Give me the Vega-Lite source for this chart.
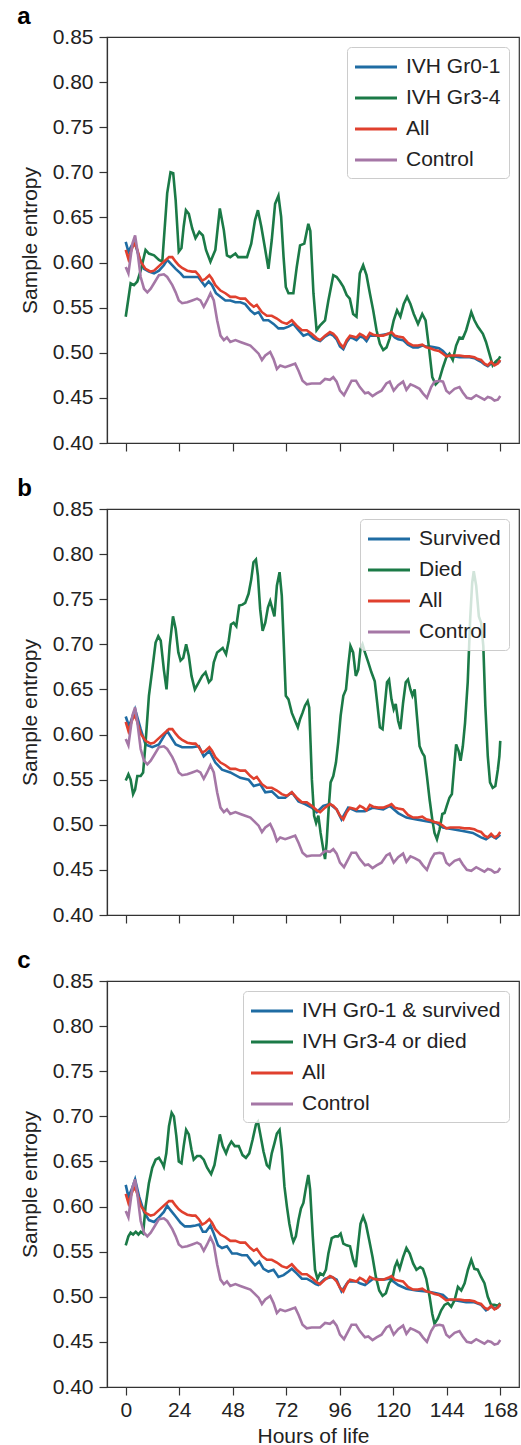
{
"$schema": "https://vega.github.io/schema/vega-lite/v6.json",
"padding": {"left": 16, "top": 4, "right": 3, "bottom": 2},
"datasets": {
"control": [{"h":0,"v":0.595},{"h":1.2,"v":0.588},{"h":3,"v":0.621},{"h":4.2,"v":0.63},{"h":5.2,"v":0.614},{"h":6.7,"v":0.584},{"h":8.2,"v":0.571},{"h":9.7,"v":0.567},{"h":11.2,"v":0.571},{"h":12.7,"v":0.577},{"h":14.9,"v":0.586},{"h":17.1,"v":0.587},{"h":18.6,"v":0.584},{"h":20.9,"v":0.575},{"h":22.4,"v":0.567},{"h":23.8,"v":0.558},{"h":25.3,"v":0.555},{"h":27.6,"v":0.556},{"h":29.8,"v":0.558},{"h":32,"v":0.56},{"h":33.5,"v":0.558},{"h":35,"v":0.551},{"h":36.5,"v":0.558},{"h":38,"v":0.566},{"h":39.5,"v":0.558},{"h":41,"v":0.536},{"h":42.5,"v":0.519},{"h":44,"v":0.514},{"h":45.4,"v":0.517},{"h":46.9,"v":0.512},{"h":49.2,"v":0.514},{"h":51.4,"v":0.512},{"h":53.6,"v":0.51},{"h":55.9,"v":0.508},{"h":58,"v":0.503},{"h":59.6,"v":0.499},{"h":61.1,"v":0.492},{"h":62.6,"v":0.497},{"h":64.8,"v":0.501},{"h":66.3,"v":0.493},{"h":67.8,"v":0.482},{"h":69.3,"v":0.486},{"h":71.5,"v":0.484},{"h":73.7,"v":0.486},{"h":76,"v":0.488},{"h":77.5,"v":0.48},{"h":79.3,"v":0.469},{"h":81.2,"v":0.465},{"h":83.4,"v":0.466},{"h":85.2,"v":0.466},{"h":87.2,"v":0.466},{"h":89.4,"v":0.471},{"h":91.6,"v":0.47},{"h":93.1,"v":0.473},{"h":94.6,"v":0.468},{"h":96.1,"v":0.458},{"h":97.9,"v":0.453},{"h":99.4,"v":0.46},{"h":101.3,"v":0.469},{"h":103.3,"v":0.469},{"h":105,"v":0.462},{"h":107.3,"v":0.455},{"h":108.8,"v":0.456},{"h":110.7,"v":0.452},{"h":112.5,"v":0.455},{"h":114.7,"v":0.458},{"h":116.9,"v":0.466},{"h":118.4,"v":0.468},{"h":120.2,"v":0.458},{"h":122.2,"v":0.464},{"h":124.4,"v":0.468},{"h":125.9,"v":0.459},{"h":127.7,"v":0.465},{"h":129.6,"v":0.463},{"h":131.8,"v":0.46},{"h":133.3,"v":0.455},{"h":135.1,"v":0.45},{"h":137,"v":0.462},{"h":138.5,"v":0.468},{"h":140.8,"v":0.469},{"h":142.3,"v":0.468},{"h":143.8,"v":0.458},{"h":145.2,"v":0.455},{"h":147.5,"v":0.46},{"h":149.7,"v":0.462},{"h":151.2,"v":0.456},{"h":153,"v":0.45},{"h":155,"v":0.449},{"h":157.2,"v":0.453},{"h":159.4,"v":0.45},{"h":160.9,"v":0.448},{"h":162.4,"v":0.451},{"h":163.9,"v":0.45},{"h":165.4,"v":0.447},{"h":166.9,"v":0.448},{"h":168,"v":0.452}],
"all": [{"h":0,"v":0.614},{"h":1.2,"v":0.604},{"h":3,"v":0.617},{"h":4.2,"v":0.621},{"h":5.2,"v":0.614},{"h":6.7,"v":0.601},{"h":8.9,"v":0.593},{"h":11.2,"v":0.59},{"h":12.7,"v":0.591},{"h":14.9,"v":0.596},{"h":17.1,"v":0.601},{"h":19.4,"v":0.606},{"h":20.9,"v":0.606},{"h":22.4,"v":0.601},{"h":23.8,"v":0.597},{"h":25.3,"v":0.594},{"h":27.6,"v":0.591},{"h":29.8,"v":0.59},{"h":31.3,"v":0.59},{"h":32.8,"v":0.586},{"h":34.3,"v":0.58},{"h":35.8,"v":0.582},{"h":37.5,"v":0.586},{"h":38.7,"v":0.582},{"h":40.2,"v":0.575},{"h":42.5,"v":0.569},{"h":44.7,"v":0.566},{"h":46.9,"v":0.562},{"h":49.2,"v":0.562},{"h":51.4,"v":0.56},{"h":53.6,"v":0.56},{"h":55.9,"v":0.554},{"h":57.4,"v":0.551},{"h":58.8,"v":0.553},{"h":61.1,"v":0.545},{"h":63.3,"v":0.541},{"h":65.5,"v":0.541},{"h":67.8,"v":0.538},{"h":70,"v":0.534},{"h":72.3,"v":0.532},{"h":74.5,"v":0.536},{"h":76.7,"v":0.53},{"h":79,"v":0.525},{"h":81.2,"v":0.525},{"h":83.4,"v":0.521},{"h":85.7,"v":0.516},{"h":87.2,"v":0.514},{"h":89.4,"v":0.519},{"h":91.6,"v":0.523},{"h":93.1,"v":0.521},{"h":94.6,"v":0.517},{"h":96.1,"v":0.51},{"h":97.6,"v":0.506},{"h":99.1,"v":0.514},{"h":100.6,"v":0.519},{"h":102,"v":0.518},{"h":103.5,"v":0.517},{"h":105,"v":0.521},{"h":106.5,"v":0.519},{"h":108,"v":0.516},{"h":109.5,"v":0.522},{"h":111,"v":0.52},{"h":113.2,"v":0.519},{"h":115.5,"v":0.519},{"h":117.7,"v":0.521},{"h":119.2,"v":0.523},{"h":120.7,"v":0.519},{"h":122.2,"v":0.518},{"h":124.4,"v":0.517},{"h":126.6,"v":0.511},{"h":128.9,"v":0.508},{"h":131.1,"v":0.508},{"h":133,"v":0.509},{"h":134.8,"v":0.506},{"h":136.6,"v":0.505},{"h":138.5,"v":0.503},{"h":140.5,"v":0.502},{"h":142.3,"v":0.499},{"h":143.8,"v":0.496},{"h":145.6,"v":0.497},{"h":147.5,"v":0.497},{"h":149.7,"v":0.497},{"h":151.9,"v":0.496},{"h":154.2,"v":0.496},{"h":156.4,"v":0.495},{"h":157.9,"v":0.493},{"h":159.4,"v":0.492},{"h":160.9,"v":0.488},{"h":162.4,"v":0.486},{"h":163.9,"v":0.49},{"h":165.4,"v":0.486},{"h":166.9,"v":0.488},{"h":168,"v":0.492}],
"a_blue": [{"h":0,"v":0.623},{"h":1.2,"v":0.612},{"h":2.7,"v":0.619},{"h":4.2,"v":0.621},{"h":6,"v":0.606},{"h":8.2,"v":0.593},{"h":10.4,"v":0.59},{"h":12.7,"v":0.588},{"h":14.9,"v":0.591},{"h":17.1,"v":0.597},{"h":18.6,"v":0.603},{"h":20.1,"v":0.599},{"h":22.4,"v":0.593},{"h":24.6,"v":0.588},{"h":26,"v":0.584},{"h":28.3,"v":0.584},{"h":30.5,"v":0.584},{"h":32.5,"v":0.584},{"h":34,"v":0.579},{"h":35.5,"v":0.574},{"h":37.2,"v":0.579},{"h":38.7,"v":0.575},{"h":40.5,"v":0.566},{"h":42.5,"v":0.562},{"h":44.7,"v":0.558},{"h":46.9,"v":0.558},{"h":49.2,"v":0.556},{"h":51.4,"v":0.556},{"h":53.6,"v":0.554},{"h":55.9,"v":0.547},{"h":57.8,"v":0.543},{"h":59.6,"v":0.545},{"h":61.8,"v":0.536},{"h":64,"v":0.536},{"h":66.3,"v":0.532},{"h":68.5,"v":0.527},{"h":70.8,"v":0.527},{"h":73,"v":0.529},{"h":75.2,"v":0.532},{"h":77.5,"v":0.525},{"h":79.7,"v":0.519},{"h":81.9,"v":0.521},{"h":84.2,"v":0.516},{"h":85.7,"v":0.514},{"h":87.2,"v":0.513},{"h":89.4,"v":0.518},{"h":91.6,"v":0.521},{"h":93.1,"v":0.519},{"h":94.6,"v":0.515},{"h":96.1,"v":0.507},{"h":97.6,"v":0.504},{"h":99.1,"v":0.512},{"h":100.6,"v":0.517},{"h":102,"v":0.516},{"h":103.5,"v":0.514},{"h":105,"v":0.518},{"h":106.5,"v":0.517},{"h":108,"v":0.513},{"h":109.5,"v":0.519},{"h":111,"v":0.519},{"h":113.2,"v":0.519},{"h":115.5,"v":0.52},{"h":117.7,"v":0.521},{"h":119.2,"v":0.521},{"h":120.7,"v":0.517},{"h":122.2,"v":0.515},{"h":124.4,"v":0.514},{"h":126.6,"v":0.509},{"h":128.9,"v":0.506},{"h":131.1,"v":0.506},{"h":133,"v":0.508},{"h":134.8,"v":0.507},{"h":136.6,"v":0.507},{"h":138.5,"v":0.506},{"h":140.5,"v":0.505},{"h":142.3,"v":0.502},{"h":143.8,"v":0.498},{"h":145.6,"v":0.496},{"h":147.5,"v":0.496},{"h":149.7,"v":0.495},{"h":151.9,"v":0.495},{"h":154.2,"v":0.495},{"h":156.4,"v":0.494},{"h":157.9,"v":0.492},{"h":159.4,"v":0.49},{"h":160.9,"v":0.487},{"h":162.4,"v":0.485},{"h":163.9,"v":0.488},{"h":165.4,"v":0.488},{"h":166.9,"v":0.489},{"h":168,"v":0.491}],
"a_green": [{"h":0,"v":0.54},{"h":2.2,"v":0.577},{"h":3.7,"v":0.575},{"h":5.2,"v":0.579},{"h":6.7,"v":0.591},{"h":8.9,"v":0.614},{"h":10.4,"v":0.61},{"h":12.7,"v":0.608},{"h":14.9,"v":0.603},{"h":16.4,"v":0.601},{"h":18.6,"v":0.677},{"h":20.1,"v":0.7},{"h":21.3,"v":0.699},{"h":22.4,"v":0.669},{"h":23.8,"v":0.612},{"h":25,"v":0.616},{"h":26,"v":0.64},{"h":27,"v":0.658},{"h":28.3,"v":0.654},{"h":29.8,"v":0.638},{"h":31.3,"v":0.627},{"h":33,"v":0.634},{"h":34.6,"v":0.63},{"h":36,"v":0.614},{"h":38,"v":0.601},{"h":40.2,"v":0.614},{"h":42.2,"v":0.66},{"h":44,"v":0.636},{"h":45.4,"v":0.608},{"h":46.9,"v":0.606},{"h":49.2,"v":0.61},{"h":50.4,"v":0.606},{"h":52,"v":0.606},{"h":54.4,"v":0.606},{"h":56.3,"v":0.621},{"h":58,"v":0.647},{"h":59.3,"v":0.658},{"h":60.8,"v":0.64},{"h":62.6,"v":0.614},{"h":64,"v":0.593},{"h":65.5,"v":0.625},{"h":67,"v":0.665},{"h":68.5,"v":0.674},{"h":69.7,"v":0.651},{"h":70.8,"v":0.606},{"h":71.8,"v":0.573},{"h":73,"v":0.566},{"h":75.2,"v":0.566},{"h":76.7,"v":0.595},{"h":78.2,"v":0.619},{"h":80.1,"v":0.621},{"h":81.9,"v":0.643},{"h":82.8,"v":0.635},{"h":84.2,"v":0.566},{"h":85.6,"v":0.525},{"h":87.1,"v":0.53},{"h":89.4,"v":0.536},{"h":90.9,"v":0.558},{"h":93.1,"v":0.586},{"h":94.6,"v":0.584},{"h":96.1,"v":0.579},{"h":97.6,"v":0.573},{"h":99.1,"v":0.564},{"h":100.5,"v":0.56},{"h":102,"v":0.543},{"h":103.5,"v":0.54},{"h":105,"v":0.588},{"h":106.5,"v":0.597},{"h":108,"v":0.586},{"h":109.5,"v":0.566},{"h":111,"v":0.547},{"h":112.5,"v":0.525},{"h":114,"v":0.51},{"h":115.5,"v":0.503},{"h":117,"v":0.506},{"h":118.4,"v":0.516},{"h":120.2,"v":0.536},{"h":121.7,"v":0.547},{"h":123.2,"v":0.54},{"h":124.7,"v":0.554},{"h":126.2,"v":0.562},{"h":127.7,"v":0.554},{"h":129.2,"v":0.543},{"h":131.1,"v":0.532},{"h":133,"v":0.543},{"h":134.5,"v":0.536},{"h":136,"v":0.506},{"h":137.5,"v":0.473},{"h":139,"v":0.465},{"h":140.5,"v":0.469},{"h":142.3,"v":0.484},{"h":143.8,"v":0.495},{"h":145.2,"v":0.499},{"h":146.7,"v":0.492},{"h":148.2,"v":0.508},{"h":149.7,"v":0.517},{"h":151.2,"v":0.516},{"h":152.7,"v":0.525},{"h":155,"v":0.545},{"h":156.4,"v":0.536},{"h":157.9,"v":0.529},{"h":160.2,"v":0.521},{"h":161.6,"v":0.512},{"h":163.1,"v":0.499},{"h":164.6,"v":0.486},{"h":165.8,"v":0.49},{"h":167.3,"v":0.493},{"h":168,"v":0.496}],
"b_blue": [{"h":0,"v":0.62},{"h":1.5,"v":0.609},{"h":4.2,"v":0.628},{"h":6.7,"v":0.606},{"h":8.9,"v":0.589},{"h":11.9,"v":0.586},{"h":14.9,"v":0.589},{"h":18.6,"v":0.604},{"h":22.4,"v":0.589},{"h":25.3,"v":0.586},{"h":29.8,"v":0.586},{"h":32.8,"v":0.587},{"h":35,"v":0.576},{"h":37.5,"v":0.582},{"h":40.2,"v":0.569},{"h":43.2,"v":0.561},{"h":46.9,"v":0.558},{"h":51.4,"v":0.552},{"h":55.1,"v":0.55},{"h":57.4,"v":0.543},{"h":60.3,"v":0.545},{"h":62.6,"v":0.536},{"h":65.5,"v":0.537},{"h":68.5,"v":0.53},{"h":71.5,"v":0.53},{"h":74.5,"v":0.536},{"h":77.5,"v":0.526},{"h":80.4,"v":0.523},{"h":83.4,"v":0.519},{"h":85.7,"v":0.514},{"h":88.6,"v":0.521},{"h":91.6,"v":0.523},{"h":94.6,"v":0.517},{"h":96.8,"v":0.506},{"h":99.8,"v":0.519},{"h":103.5,"v":0.515},{"h":107.3,"v":0.515},{"h":111,"v":0.519},{"h":115.5,"v":0.517},{"h":118.4,"v":0.521},{"h":122.2,"v":0.513},{"h":125.9,"v":0.508},{"h":130.4,"v":0.506},{"h":134.8,"v":0.504},{"h":139.3,"v":0.502},{"h":142.3,"v":0.497},{"h":146.7,"v":0.495},{"h":151.2,"v":0.493},{"h":155.7,"v":0.491},{"h":159.4,"v":0.486},{"h":161.6,"v":0.484},{"h":163.9,"v":0.488},{"h":166.1,"v":0.485},{"h":168,"v":0.489}],
"b_green": [{"h":0,"v":0.549},{"h":1.2,"v":0.556},{"h":2.2,"v":0.55},{"h":3.3,"v":0.534},{"h":4.2,"v":0.539},{"h":5.2,"v":0.554},{"h":6.7,"v":0.554},{"h":7.8,"v":0.558},{"h":8.9,"v":0.591},{"h":10.4,"v":0.643},{"h":11.9,"v":0.672},{"h":13.4,"v":0.702},{"h":14.6,"v":0.709},{"h":15.7,"v":0.704},{"h":17.1,"v":0.672},{"h":18.3,"v":0.65},{"h":19.7,"v":0.698},{"h":21.2,"v":0.731},{"h":22.4,"v":0.717},{"h":23.6,"v":0.691},{"h":24.6,"v":0.682},{"h":25.8,"v":0.685},{"h":27.1,"v":0.7},{"h":28.3,"v":0.687},{"h":29.5,"v":0.665},{"h":31,"v":0.65},{"h":32.8,"v":0.658},{"h":34.3,"v":0.665},{"h":35.8,"v":0.669},{"h":37.3,"v":0.658},{"h":38.4,"v":0.661},{"h":39.5,"v":0.68},{"h":41,"v":0.691},{"h":42,"v":0.693},{"h":43.5,"v":0.696},{"h":45,"v":0.689},{"h":46.2,"v":0.704},{"h":47.2,"v":0.722},{"h":48.4,"v":0.724},{"h":49.6,"v":0.72},{"h":50.9,"v":0.743},{"h":52.4,"v":0.744},{"h":53.6,"v":0.746},{"h":55.1,"v":0.756},{"h":56.3,"v":0.772},{"h":57.3,"v":0.791},{"h":58.4,"v":0.794},{"h":59.3,"v":0.776},{"h":60.3,"v":0.739},{"h":61.4,"v":0.715},{"h":62.6,"v":0.724},{"h":63.8,"v":0.741},{"h":64.8,"v":0.748},{"h":65.8,"v":0.739},{"h":66.7,"v":0.731},{"h":67.8,"v":0.765},{"h":69,"v":0.78},{"h":70,"v":0.754},{"h":70.8,"v":0.706},{"h":71.8,"v":0.643},{"h":73,"v":0.639},{"h":74.5,"v":0.624},{"h":76,"v":0.615},{"h":77.2,"v":0.608},{"h":78.2,"v":0.617},{"h":79.3,"v":0.624},{"h":80.4,"v":0.632},{"h":81.6,"v":0.637},{"h":82.3,"v":0.63},{"h":82.9,"v":0.591},{"h":83.5,"v":0.55},{"h":84.5,"v":0.51},{"h":85.4,"v":0.502},{"h":86.4,"v":0.51},{"h":87.4,"v":0.491},{"h":88.6,"v":0.473},{"h":89.4,"v":0.462},{"h":90.1,"v":0.48},{"h":91,"v":0.517},{"h":91.9,"v":0.547},{"h":93.1,"v":0.554},{"h":94.3,"v":0.569},{"h":95.3,"v":0.591},{"h":96.4,"v":0.621},{"h":97.6,"v":0.643},{"h":98.8,"v":0.65},{"h":99.8,"v":0.676},{"h":100.8,"v":0.698},{"h":102,"v":0.691},{"h":103.2,"v":0.665},{"h":104.3,"v":0.672},{"h":105.3,"v":0.695},{"h":106.2,"v":0.7},{"h":107.3,"v":0.691},{"h":108.8,"v":0.68},{"h":110.2,"v":0.669},{"h":111.7,"v":0.659},{"h":112.8,"v":0.635},{"h":114,"v":0.608},{"h":115.2,"v":0.606},{"h":116.2,"v":0.632},{"h":117.2,"v":0.658},{"h":118.1,"v":0.661},{"h":119.2,"v":0.639},{"h":120.2,"v":0.628},{"h":121.1,"v":0.634},{"h":122.2,"v":0.615},{"h":123.2,"v":0.606},{"h":124.4,"v":0.635},{"h":125.6,"v":0.658},{"h":126.6,"v":0.661},{"h":127.7,"v":0.65},{"h":128.6,"v":0.643},{"h":129.6,"v":0.65},{"h":130.6,"v":0.621},{"h":131.8,"v":0.587},{"h":133,"v":0.58},{"h":134,"v":0.576},{"h":135.1,"v":0.554},{"h":136.3,"v":0.528},{"h":137.5,"v":0.506},{"h":138.5,"v":0.491},{"h":139.6,"v":0.484},{"h":140.8,"v":0.495},{"h":142,"v":0.512},{"h":143,"v":0.513},{"h":144,"v":0.521},{"h":145.2,"v":0.53},{"h":146.3,"v":0.534},{"h":147.2,"v":0.561},{"h":148.2,"v":0.589},{"h":149.3,"v":0.582},{"h":150.2,"v":0.571},{"h":151.2,"v":0.587},{"h":152.2,"v":0.613},{"h":153.4,"v":0.658},{"h":154.5,"v":0.728},{"h":155.4,"v":0.768},{"h":156.1,"v":0.781},{"h":157.2,"v":0.765},{"h":158.4,"v":0.731},{"h":159.4,"v":0.724},{"h":160.4,"v":0.698},{"h":161.3,"v":0.632},{"h":162.4,"v":0.576},{"h":163.4,"v":0.547},{"h":164.6,"v":0.541},{"h":165.8,"v":0.543},{"h":166.9,"v":0.561},{"h":167.6,"v":0.576},{"h":168,"v":0.593}],
"c_blue": [{"h":0,"v":0.624},{"h":1.2,"v":0.611},{"h":2.7,"v":0.619},{"h":4.2,"v":0.63},{"h":6,"v":0.611},{"h":8.2,"v":0.594},{"h":10.4,"v":0.585},{"h":12.7,"v":0.583},{"h":14.9,"v":0.588},{"h":17.1,"v":0.594},{"h":18.6,"v":0.601},{"h":20.1,"v":0.596},{"h":22.4,"v":0.589},{"h":24.6,"v":0.582},{"h":26.5,"v":0.578},{"h":29,"v":0.578},{"h":31.3,"v":0.579},{"h":33,"v":0.58},{"h":34.6,"v":0.572},{"h":36,"v":0.572},{"h":38,"v":0.579},{"h":39.5,"v":0.57},{"h":41.4,"v":0.557},{"h":43.2,"v":0.554},{"h":45.4,"v":0.556},{"h":47.7,"v":0.548},{"h":49.9,"v":0.548},{"h":52.1,"v":0.546},{"h":54.4,"v":0.546},{"h":56.6,"v":0.539},{"h":58,"v":0.535},{"h":59.9,"v":0.539},{"h":61.8,"v":0.531},{"h":64,"v":0.528},{"h":66.3,"v":0.53},{"h":68.5,"v":0.522},{"h":70.8,"v":0.524},{"h":73,"v":0.528},{"h":74.5,"v":0.531},{"h":76.7,"v":0.526},{"h":79,"v":0.52},{"h":81.2,"v":0.52},{"h":83.4,"v":0.517},{"h":85.2,"v":0.514},{"h":86.4,"v":0.513},{"h":89.4,"v":0.52},{"h":92.4,"v":0.522},{"h":94.6,"v":0.519},{"h":96.8,"v":0.506},{"h":99.8,"v":0.517},{"h":103.5,"v":0.517},{"h":105,"v":0.515},{"h":107.3,"v":0.513},{"h":111,"v":0.52},{"h":115.5,"v":0.519},{"h":118.4,"v":0.52},{"h":122.2,"v":0.513},{"h":125.9,"v":0.509},{"h":130.4,"v":0.507},{"h":134.8,"v":0.506},{"h":139.3,"v":0.504},{"h":142.3,"v":0.502},{"h":144.5,"v":0.497},{"h":148.2,"v":0.496},{"h":152.7,"v":0.494},{"h":156.4,"v":0.494},{"h":159.4,"v":0.491},{"h":161.6,"v":0.485},{"h":163.9,"v":0.489},{"h":166.1,"v":0.487},{"h":168,"v":0.491}],
"c_green": [{"h":0,"v":0.557},{"h":1.2,"v":0.567},{"h":2.2,"v":0.571},{"h":3.3,"v":0.569},{"h":4.5,"v":0.572},{"h":5.7,"v":0.569},{"h":6.7,"v":0.572},{"h":7.8,"v":0.57},{"h":8.9,"v":0.6},{"h":10.4,"v":0.626},{"h":11.9,"v":0.643},{"h":13.4,"v":0.652},{"h":14.9,"v":0.654},{"h":16.4,"v":0.648},{"h":17.1,"v":0.644},{"h":18.2,"v":0.659},{"h":19.4,"v":0.689},{"h":20.6,"v":0.704},{"h":21.6,"v":0.7},{"h":22.7,"v":0.678},{"h":23.8,"v":0.65},{"h":25,"v":0.648},{"h":26,"v":0.667},{"h":27.1,"v":0.685},{"h":28.3,"v":0.68},{"h":29.5,"v":0.663},{"h":30.5,"v":0.652},{"h":32,"v":0.656},{"h":33.5,"v":0.656},{"h":35,"v":0.652},{"h":36.5,"v":0.643},{"h":38.3,"v":0.636},{"h":39.8,"v":0.646},{"h":41,"v":0.663},{"h":42.2,"v":0.68},{"h":43.5,"v":0.667},{"h":45,"v":0.659},{"h":46.2,"v":0.667},{"h":47.4,"v":0.672},{"h":48.9,"v":0.667},{"h":50.7,"v":0.667},{"h":52.4,"v":0.657},{"h":53.9,"v":0.654},{"h":55.4,"v":0.659},{"h":56.9,"v":0.674},{"h":58.4,"v":0.691},{"h":59.3,"v":0.694},{"h":60.3,"v":0.681},{"h":61.8,"v":0.661},{"h":63.3,"v":0.646},{"h":64.4,"v":0.643},{"h":65.5,"v":0.659},{"h":66.7,"v":0.67},{"h":67.8,"v":0.681},{"h":69,"v":0.685},{"h":70,"v":0.663},{"h":71.2,"v":0.622},{"h":72.3,"v":0.6},{"h":73.4,"v":0.581},{"h":74.5,"v":0.567},{"h":75.2,"v":0.561},{"h":76.3,"v":0.567},{"h":77.5,"v":0.585},{"h":78.6,"v":0.598},{"h":79.7,"v":0.604},{"h":80.7,"v":0.619},{"h":81.9,"v":0.635},{"h":82.7,"v":0.619},{"h":83.9,"v":0.567},{"h":84.9,"v":0.53},{"h":86,"v":0.52},{"h":87.2,"v":0.526},{"h":88.6,"v":0.524},{"h":89.8,"v":0.53},{"h":90.9,"v":0.548},{"h":92.4,"v":0.565},{"h":94,"v":0.567},{"h":95.3,"v":0.567},{"h":96.4,"v":0.57},{"h":97.6,"v":0.559},{"h":99.1,"v":0.557},{"h":100.6,"v":0.556},{"h":102,"v":0.541},{"h":103.2,"v":0.533},{"h":104.3,"v":0.559},{"h":105.3,"v":0.581},{"h":106.5,"v":0.589},{"h":107.7,"v":0.581},{"h":109.2,"v":0.563},{"h":110.7,"v":0.544},{"h":112.2,"v":0.522},{"h":113.7,"v":0.507},{"h":115.2,"v":0.501},{"h":116.7,"v":0.504},{"h":118.1,"v":0.515},{"h":119.6,"v":0.52},{"h":120.7,"v":0.533},{"h":121.7,"v":0.539},{"h":122.9,"v":0.531},{"h":124.4,"v":0.544},{"h":125.9,"v":0.554},{"h":127.4,"v":0.548},{"h":128.9,"v":0.537},{"h":130.4,"v":0.53},{"h":132.1,"v":0.533},{"h":133.3,"v":0.531},{"h":134.8,"v":0.52},{"h":136.3,"v":0.5},{"h":137.5,"v":0.481},{"h":138.5,"v":0.47},{"h":140,"v":0.476},{"h":141.5,"v":0.485},{"h":143,"v":0.491},{"h":144.5,"v":0.493},{"h":146,"v":0.489},{"h":147.5,"v":0.496},{"h":149,"v":0.511},{"h":150.5,"v":0.507},{"h":152,"v":0.515},{"h":153.5,"v":0.53},{"h":155,"v":0.541},{"h":156.4,"v":0.531},{"h":157.9,"v":0.53},{"h":159.4,"v":0.522},{"h":160.9,"v":0.515},{"h":162.4,"v":0.5},{"h":163.9,"v":0.491},{"h":165.4,"v":0.491},{"h":166.9,"v":0.49},{"h":168,"v":0.493}]
},
"vconcat": [
{
 "title": {"text": "a"},
 "width": 412, "height": 406,
 "encoding": {
  "x": {"field": "h", "type": "quantitative", "scale": {"domain": [-8.4, 176.4], "nice": false}, "axis": {"values": [0,24,48,72,96,120,144,168], "labels": false, "title": null}},
  "y": {"field": "v", "type": "quantitative", "scale": {"domain": [0.4, 0.85], "nice": false, "zero": false}, "axis": {"title": "Sample entropy", "values": [0.4,0.45,0.5,0.55,0.6,0.65,0.7,0.75,0.8,0.85], "format": ".2f"}}
 },
 "layer": [
  {"data": {"name": "a_blue"}, "mark": {"type": "line", "strokeWidth": 2.6}, "encoding": {"color": {"datum": "IVH Gr0-1", "type": "nominal", "scale": {"domain": ["IVH Gr0-1","IVH Gr3-4","All","Control"], "range": ["#1f6ca3","#1b7a47","#e0402e","#a577a6"]}, "legend": {"labelExpr": "datum.label + '  '"}}}},
  {"data": {"name": "a_green"}, "mark": {"type": "line", "strokeWidth": 2.6}, "encoding": {"color": {"datum": "IVH Gr3-4", "type": "nominal"}}},
  {"data": {"name": "all"}, "mark": {"type": "line", "strokeWidth": 2.6}, "encoding": {"color": {"datum": "All", "type": "nominal"}}},
  {"data": {"name": "control"}, "mark": {"type": "line", "strokeWidth": 2.6}, "encoding": {"color": {"datum": "Control", "type": "nominal"}}}
 ]
},
{
 "title": {"text": "b"},
 "width": 412, "height": 406,
 "encoding": {
  "x": {"field": "h", "type": "quantitative", "scale": {"domain": [-8.4, 176.4], "nice": false}, "axis": {"values": [0,24,48,72,96,120,144,168], "labels": false, "title": null}},
  "y": {"field": "v", "type": "quantitative", "scale": {"domain": [0.4, 0.85], "nice": false, "zero": false}, "axis": {"title": "Sample entropy", "values": [0.4,0.45,0.5,0.55,0.6,0.65,0.7,0.75,0.8,0.85], "format": ".2f"}}
 },
 "layer": [
  {"data": {"name": "b_blue"}, "mark": {"type": "line", "strokeWidth": 2.6}, "encoding": {"color": {"datum": "Survived", "type": "nominal", "scale": {"domain": ["Survived","Died","All","Control"], "range": ["#1f6ca3","#1b7a47","#e0402e","#a577a6"]}, "legend": {"labelExpr": "datum.label + '  '"}}}},
  {"data": {"name": "b_green"}, "mark": {"type": "line", "strokeWidth": 2.6}, "encoding": {"color": {"datum": "Died", "type": "nominal"}}},
  {"data": {"name": "all"}, "mark": {"type": "line", "strokeWidth": 2.6}, "encoding": {"color": {"datum": "All", "type": "nominal"}}},
  {"data": {"name": "control"}, "mark": {"type": "line", "strokeWidth": 2.6}, "encoding": {"color": {"datum": "Control", "type": "nominal"}}}
 ]
},
{
 "title": {"text": "c"},
 "width": 412, "height": 406,
 "encoding": {
  "x": {"field": "h", "type": "quantitative", "scale": {"domain": [-8.4, 176.4], "nice": false}, "axis": {"values": [0,24,48,72,96,120,144,168], "title": "Hours of life", "labelPadding": 4, "titlePadding": 5}},
  "y": {"field": "v", "type": "quantitative", "scale": {"domain": [0.4, 0.85], "nice": false, "zero": false}, "axis": {"title": "Sample entropy", "values": [0.4,0.45,0.5,0.55,0.6,0.65,0.7,0.75,0.8,0.85], "format": ".2f"}}
 },
 "layer": [
  {"data": {"name": "c_blue"}, "mark": {"type": "line", "strokeWidth": 2.6}, "encoding": {"color": {"datum": "IVH Gr0-1 & survived", "type": "nominal", "scale": {"domain": ["IVH Gr0-1 & survived","IVH Gr3-4 or died","All","Control"], "range": ["#1f6ca3","#1b7a47","#e0402e","#a577a6"]}, "legend": {"labelExpr": "datum.label + '    '"}}}},
  {"data": {"name": "c_green"}, "mark": {"type": "line", "strokeWidth": 2.6}, "encoding": {"color": {"datum": "IVH Gr3-4 or died", "type": "nominal"}}},
  {"data": {"name": "all"}, "mark": {"type": "line", "strokeWidth": 2.6}, "encoding": {"color": {"datum": "All", "type": "nominal"}}},
  {"data": {"name": "control"}, "mark": {"type": "line", "strokeWidth": 2.6}, "encoding": {"color": {"datum": "Control", "type": "nominal"}}}
 ]
}
],
"spacing": 22,
"resolve": {"scale": {"color": "independent"}, "legend": {"color": "independent"}},
"config": {
 "font": "Liberation Sans",
 "view": {"stroke": "#333", "strokeWidth": 1.2},
 "axis": {"labelFontSize": 21, "titleFontSize": 21, "titleFontWeight": "normal", "labelColor": "#222", "titleColor": "#222", "tickColor": "#333", "domainColor": "#333", "tickSize": 8, "tickWidth": 1.2, "domainWidth": 1.2, "grid": false, "labelPadding": 6, "titlePadding": 12},
 "legend": {"orient": "top-right", "offset": 10, "padding": 8, "rowPadding": 9, "labelFontSize": 21, "labelColor": "#222", "symbolType": "M-2,0H2", "symbolStrokeWidth": 3, "symbolSize": 441, "symbolOffset": 9, "labelOffset": 18, "strokeColor": "#cccccc", "cornerRadius": 4, "fillColor": "rgba(255,255,255,0.8)", "title": null, "labelLimit": 400},
 "title": {"fontSize": 24, "fontWeight": "bold", "anchor": "start", "frame": "bounds", "offset": -3, "color": "#000", "dx": -2}
}
}
